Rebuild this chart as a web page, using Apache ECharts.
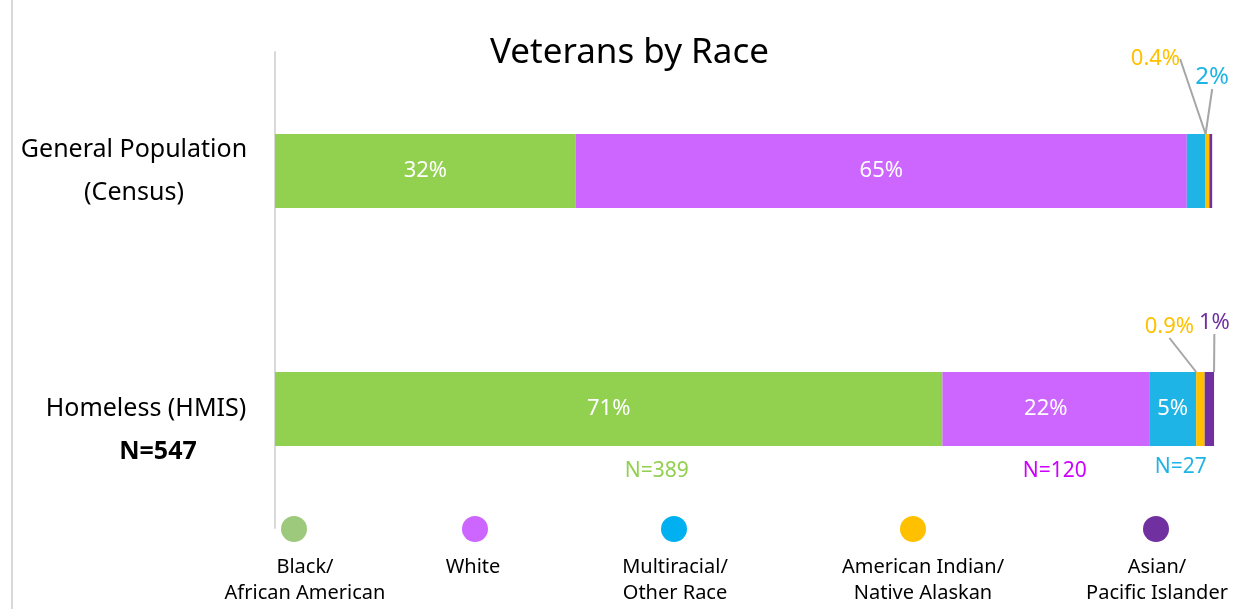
<!DOCTYPE html>
<html>
<head>
<meta charset="utf-8">
<script src="https://cdn.jsdelivr.net/npm/echarts@6/dist/echarts.min.js"></script>
<style>
  html, body { margin: 0; padding: 0; background: #fff; }
  #chart { width: 1237px; height: 609px; }
</style>
</head>
<body>
<div id="chart"></div>
<script>
// Population groups (rows) and race groups (stacked segments)
const categories = ['General Population\n(Census)', 'Homeless (HMIS)\nN=547'];
const raceNames = ['Black/\nAfrican American', 'White', 'Multiracial/\nOther Race', 'American Indian/\nNative Alaskan', 'Asian/\nPacific Islander'];

// Share of veterans (%) per race group
const censusPct = [32, 65, 2, 0.4, 0.3];
const hmisPct = [71, 22, 5, 0.9, 1];

// Homeless head counts shown under the bar
const hmisCounts = [389, 120, 27, null, null];

const FONT = '"Noto Sans", "Open Sans", sans-serif';
const barColors = ['#92D050', '#CC66FF', '#1EB4E6', '#FFC000', '#7030A0'];
const legendColors = ['#9CC97B', '#CC66FF', '#00B0F0', '#FFC000', '#7030A0'];
const countColors = ['#92D050', '#CC00FF', '#1EB4E6'];

// Small segments get their label pulled out above the bar with a guide line
const calloutOffsets = {
  '2-0': [16, -40],
  '3-0': [-52, -59],
  '3-1': [-31, -29],
  '4-1': [5, -33]
};
const calloutSizes = { '2-0': 24, '3-0': 22, '3-1': 22, '4-1': 22 };
const hiddenLabels = ['4-0'];
// Pixel nudges for the N= labels
const countOffsets = [[48, 62], [9, 62], [8, 58]];

function segLabel(i, j) {
  const key = i + '-' + j;
  if (hiddenLabels.includes(key)) return { show: false };
  if (calloutOffsets[key]) {
    return {
      show: true, position: 'top', distance: 5,
      color: barColors[i], fontSize: calloutSizes[key], fontFamily: FONT,
      formatter: p => p.value + '%'
    };
  }
  return {
    show: true, position: 'inside', color: '#fff',
    fontSize: 22, fontFamily: FONT,
    formatter: p => p.value + '%'
  };
}

const series = raceNames.map((name, i) => {
  const vals = [censusPct[i], hmisPct[i]];
  const s = {
    name: name,
    type: 'bar',
    stack: 'total',
    barWidth: 74,
    itemStyle: { color: barColors[i] },
    emphasis: { disabled: true },
    data: vals.map((v, j) => ({
      value: v,
      label: segLabel(i, j),
      labelLine: {
        show: !!calloutOffsets[i + '-' + j],
        lineStyle: { color: '#A6A6A6', width: 2 }
      }
    })),
    labelLayout: function (params) {
      const off = calloutOffsets[params.seriesIndex + '-' + params.dataIndex];
      if (!off) return {};
      return { dx: off[0], dy: off[1] };
    }
  };
  if (hmisCounts[i] != null) {
    // centre of this segment on the homeless row
    const start = hmisPct.slice(0, i).reduce((a, b) => a + b, 0);
    const mid = start + hmisPct[i] / 2;
    s.markPoint = {
      silent: true,
      symbol: 'circle',
      symbolSize: 1,
      itemStyle: { color: 'rgba(0,0,0,0)' },
      label: {
        show: true, position: 'inside',
        offset: countOffsets[i],
        color: countColors[i], fontSize: 21, fontFamily: FONT,
        formatter: 'N=' + hmisCounts[i]
      },
      data: [{ coord: [mid, 1], value: hmisCounts[i] }]
    };
  }
  return s;
});

// Legend drawn as circles with the name underneath
const legendX = [294, 475, 674, 913, 1156];
const legendTextX = [305, 473, 675, 923, 1157];
const legendGraphics = [];
raceNames.forEach((name, i) => {
  legendGraphics.push({
    type: 'circle', silent: true,
    shape: { cx: legendX[i], cy: 529, r: 13 },
    style: { fill: legendColors[i] }
  });
  legendGraphics.push({
    type: 'text', silent: true,
    x: legendTextX[i], y: 554,
    style: {
      text: name, align: 'center', verticalAlign: 'top',
      font: '20px ' + FONT, lineHeight: 26, fill: '#000'
    }
  });
});

const chart = echarts.init(document.getElementById('chart'), null, { renderer: 'canvas' });
chart.setOption({
  animation: false,
  backgroundColor: '#fff',
  title: {
    text: 'Veterans by Race',
    left: 485, top: 31,
    textStyle: { fontFamily: FONT, fontSize: 35, fontWeight: 'normal', color: '#000' }
  },
  grid: { left: 275, right: 22, top: 52, bottom: 81, containLabel: false },
  xAxis: { type: 'value', min: 0, max: 100, show: false },
  yAxis: {
    type: 'category',
    inverse: true,
    data: categories,
    axisLine: { show: true, lineStyle: { color: '#D9D9D9', width: 2 } },
    axisTick: { show: false },
    axisLabel: {
      margin: 141,
      align: 'center',
      fontFamily: FONT,
      fontSize: 25,
      color: '#000',
      lineHeight: 43,
      formatter: function (value, index) {
        const parts = value.split('\n');
        if (index === 1) return '{n| }\n{a|' + parts[0] + '}\n{b|' + parts[1] + '}';
        return '{n|' + parts[0] + '}\n{n|' + parts[1] + '}';
      },
      rich: {
        n: { fontFamily: FONT, fontSize: 25, color: '#000', lineHeight: 43 },
        a: { fontFamily: FONT, fontSize: 25, color: '#000', lineHeight: 43, padding: [0, 0, 0, 24] },
        b: { fontFamily: FONT, fontSize: 25, color: '#000', lineHeight: 43, fontWeight: 'bold', padding: [0, 0, 0, 48] }
      }
    }
  },
  graphic: [
    {
      type: 'line', silent: true,
      shape: { x1: 12, y1: 0, x2: 12, y2: 609 },
      style: { stroke: '#D9D9D9', lineWidth: 2 }
    }
  ].concat(legendGraphics),
  series: series
});
</script>
</body>
</html>
